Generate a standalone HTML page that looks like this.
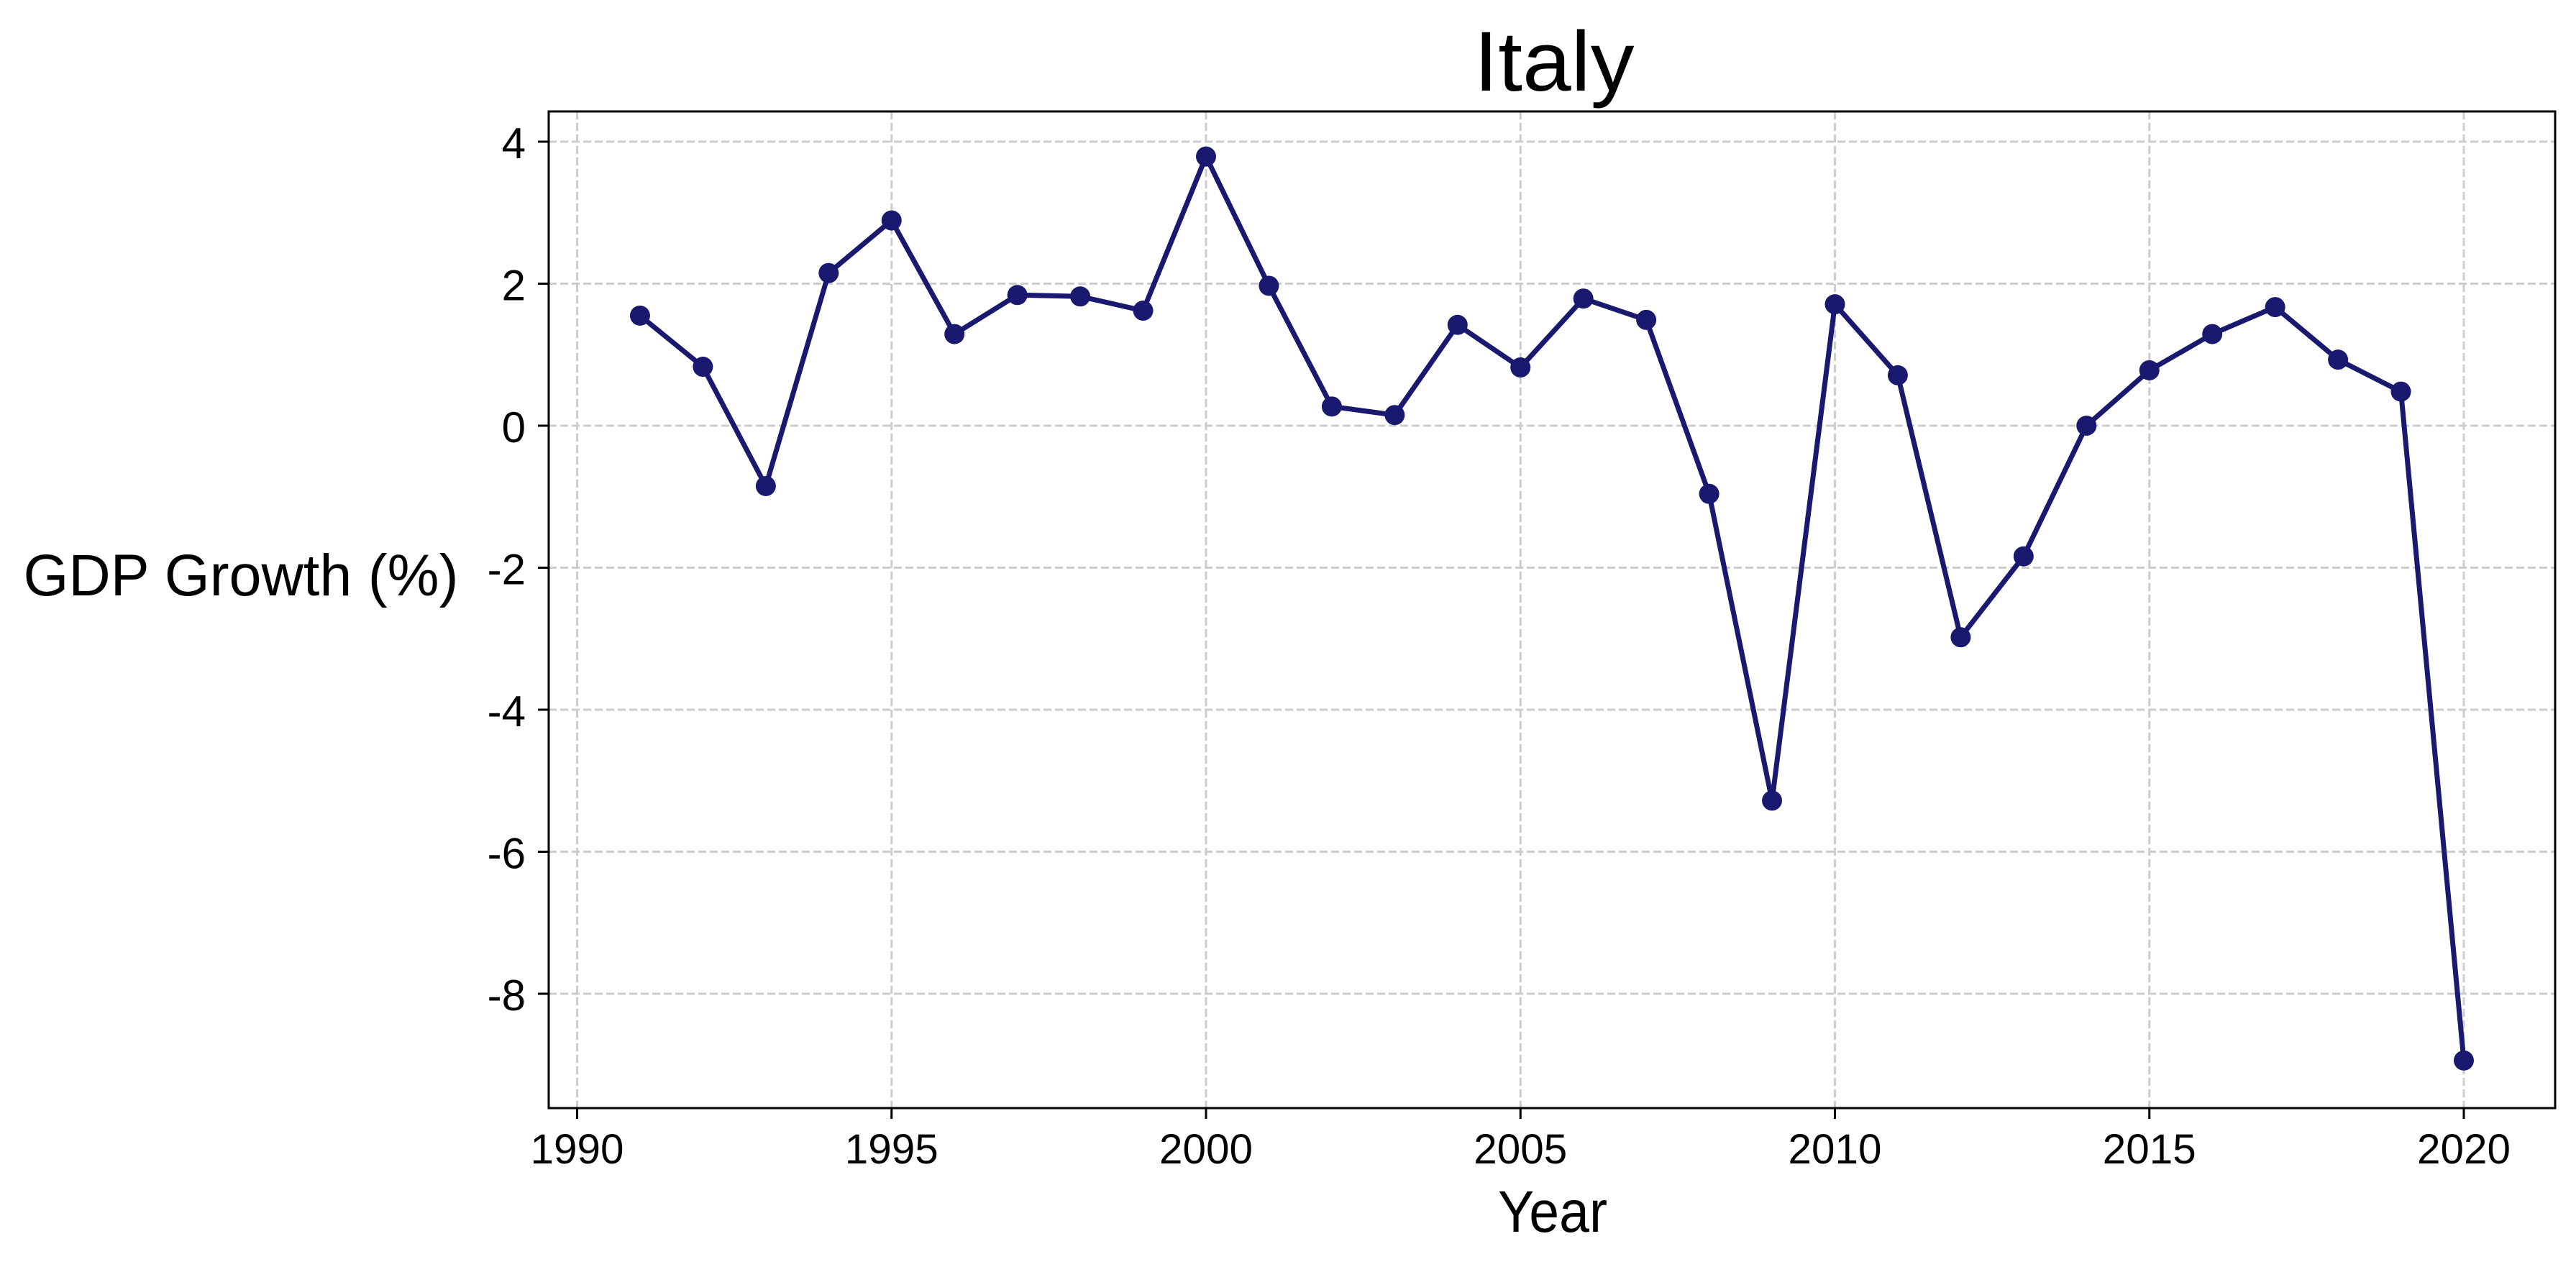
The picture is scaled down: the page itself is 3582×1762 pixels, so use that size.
<!DOCTYPE html>
<html><head><meta charset="utf-8"><style>html,body{margin:0;padding:0;background:#fff}svg{display:block}text{font-family:"Liberation Sans",sans-serif;fill:#000}</style></head>
<body>
<svg id="chart" width="3582" height="1762" viewBox="0 0 3582 1762" xmlns="http://www.w3.org/2000/svg">
<rect x="0" y="0" width="3582" height="1762" fill="#fff"/>
<g id="grid"></g>
<g id="axes"></g>
<g id="series"></g>
<text x="2161" y="126" font-size="118" text-anchor="middle" textLength="223" lengthAdjust="spacingAndGlyphs">Italy</text>
<text x="2159" y="1713" font-size="82" text-anchor="middle" textLength="152" lengthAdjust="spacingAndGlyphs">Year</text>
<text x="335" y="828" font-size="82" text-anchor="middle" textLength="605" lengthAdjust="spacingAndGlyphs">GDP Growth (%)</text>
</svg>
<script>
const years = [1991,1992,1993,1994,1995,1996,1997,1998,1999,2000,2001,2002,2003,2004,2005,2006,2007,2008,2009,2010,2011,2012,2013,2014,2015,2016,2017,2018,2019,2020];
const growth = [1.55,0.83,-0.85,2.15,2.89,1.29,1.84,1.82,1.62,3.79,1.97,0.27,0.15,1.42,0.82,1.79,1.49,-0.96,-5.28,1.71,0.71,-2.98,-1.84,0.0,0.78,1.29,1.67,0.93,0.48,-8.94];
const xTicks = [1990,1995,2000,2005,2010,2015,2020];
const yTicks = [4,2,0,-2,-4,-6,-8];
const yTickLabels = ["4","2","0","-2","-4","-6","-8"];

const NS = "http://www.w3.org/2000/svg";
const L = 763, R = 3553, T = 155, B = 1541;
function xs(v){ return 802.5 + (v - 1990) * 87.45; }
function ys(v){ return 592 - v * 98.75; }
function mk(tag, attrs, parent){ const e = document.createElementNS(NS, tag); for (const k in attrs) e.setAttribute(k, attrs[k]); parent.appendChild(e); return e; }

const grid = document.getElementById('grid');
const axes = document.getElementById('axes');
const series = document.getElementById('series');

xTicks.forEach(t => {
  const g = mk('line', {x1: xs(t), x2: xs(t), y1: T, y2: B, stroke: '#cccccc', 'stroke-width': 3, 'stroke-dasharray': '11 5'}, grid);
  
  
  const tk = mk('line', {x1: xs(t), x2: xs(t), y1: B, y2: B + 15, stroke: '#000', 'stroke-width': 3}, axes);
  
  
  const lb = mk('text', {x: xs(t), y: 1618, 'font-size': 58, 'text-anchor': 'middle', textLength: 130, lengthAdjust: 'spacingAndGlyphs'}, axes);
  lb.textContent = String(t);
  
  
});
yTicks.forEach((t, i) => {
  const g = mk('line', {x1: L, x2: R, y1: ys(t), y2: ys(t), stroke: '#cccccc', 'stroke-width': 3, 'stroke-dasharray': '11 5'}, grid);
  
  
  const tk = mk('line', {x1: L - 15, x2: L, y1: ys(t), y2: ys(t), stroke: '#000', 'stroke-width': 3}, axes);
  
  
  const lb = mk('text', {x: 731, y: ys(t) + 23, 'font-size': 60, 'text-anchor': 'end'}, axes);
  lb.textContent = yTickLabels[i];
  
  
});
const frame = mk('rect', {x: L, y: T, width: R - L, height: B - T, fill: 'none', stroke: '#000', 'stroke-width': 3}, axes);



const pts = years.map((y, i) => xs(y) + ',' + ys(growth[i])).join(' ');
const line = mk('polyline', {points: pts, fill: 'none', stroke: '#191970', 'stroke-width': 7, 'stroke-linejoin': 'round'}, series);


years.forEach((y, i) => {
  const c = mk('circle', {cx: xs(y), cy: ys(growth[i]), r: 14, fill: '#191970'}, series);
  
  
});
</script>
</body></html>
